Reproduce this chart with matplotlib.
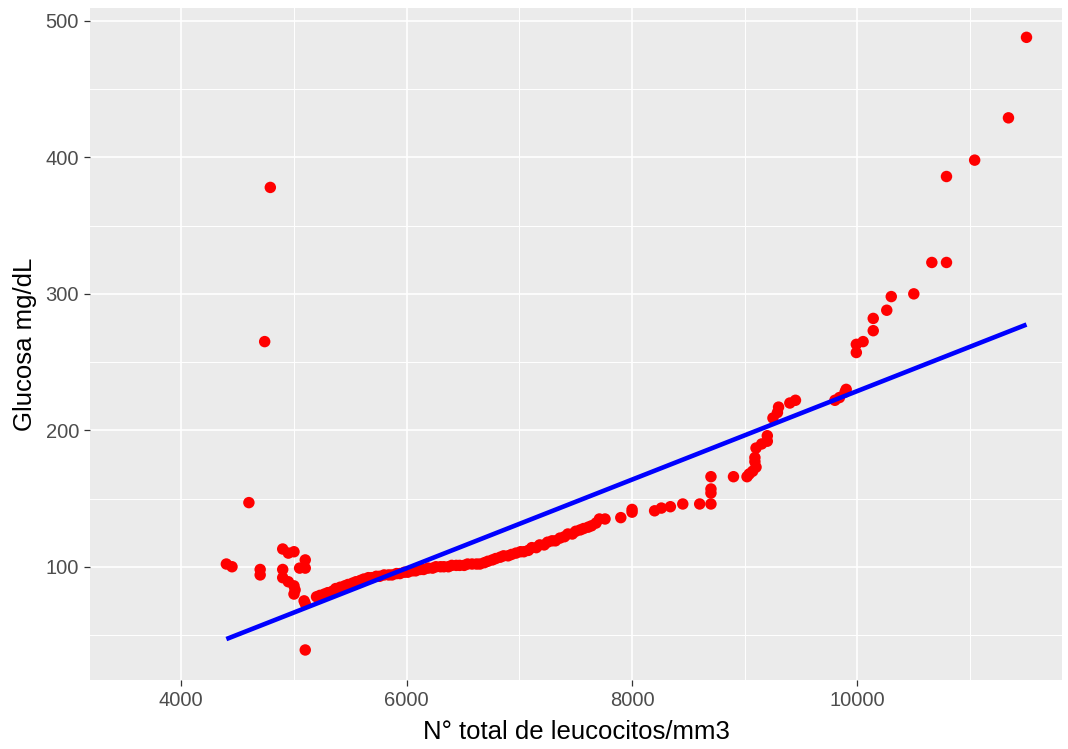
import matplotlib
matplotlib.use("Agg")
import matplotlib.pyplot as plt
from matplotlib.ticker import MultipleLocator

plt.rcParams['font.family'] = ['Liberation Sans', 'DejaVu Sans']

# Pacientes con valores atipicos a la izquierda
leuco_izq = [4400, 4450, 4600, 4740, 4790, 4700, 4700,
             4900, 4950, 5000, 5100, 5050, 5100, 4900, 4900, 4950,
             5000, 5010, 5000, 5090, 5100, 5100]
gluc_izq = [102, 100, 147, 265, 378, 98, 94,
            113, 110, 111, 105, 99, 99, 98, 92, 89,
            86, 83, 80, 75, 73, 39]

# Tramo central (valores ordenados)
leuco_centro = [5200, 5230, 5270, 5300, 5340, 5370, 5410, 5450, 5480, 5520,
                5550, 5590, 5620, 5660, 5690, 5730, 5760, 5800, 5840, 5870,
                5910, 5940, 5980, 6010, 6050, 6080, 6120, 6150, 6190, 6230,
                6260, 6300, 6330, 6370, 6400, 6440, 6470, 6510, 6540, 6580,
                6620, 6650, 6690, 6720, 6760, 6790, 6830, 6860, 6900, 6930,
                6970, 7010, 7040, 7080, 7110, 7150, 7180, 7220, 7250, 7290,
                7320, 7360, 7400, 7430, 7470, 7500, 7540, 7570, 7610, 7640,
                7680, 7710, 7760]
gluc_centro = [78, 79, 80, 81, 82, 84, 85, 86, 87, 88,
               89, 90, 91, 92, 92, 93, 93, 94, 94, 94,
               95, 95, 96, 96, 97, 97, 98, 98, 99, 99,
               100, 100, 100, 100, 101, 101, 101, 101, 102, 102,
               102, 102, 103, 104, 105, 106, 107, 108, 108, 109,
               110, 111, 111, 112, 114, 114, 116, 116, 118, 119,
               119, 121, 122, 124, 124, 126, 127, 128, 129, 130,
               132, 135, 135]

# Tramo derecho
leuco_der = [7900, 8000, 8000, 8200, 8260, 8340, 8450, 8600, 8700, 8700,
             8700, 8700, 8900, 9020, 9040, 9070, 9100, 9090, 9090, 9100,
             9150, 9200, 9200, 9250, 9290, 9300, 9400, 9450, 9800, 9840,
             9890, 9900, 9990, 9990, 10050, 10140, 10140, 10260, 10300, 10500,
             10660, 10790, 10790, 11040, 11340, 11500]
gluc_der = [136, 140, 142, 141, 143, 144, 146, 146, 146, 154,
            157, 166, 166, 166, 168, 170, 173, 177, 180, 187,
            190, 192, 196, 209, 213, 217, 220, 222, 222, 224,
            228, 230, 257, 263, 265, 273, 282, 288, 298, 300,
            323, 323, 386, 398, 429, 488]

leucocitos = leuco_izq + leuco_centro + leuco_der
glucosa = gluc_izq + gluc_centro + gluc_der

# Recta de regresion lineal (extremos)
recta_x = [4400, 11500]
recta_y = [47, 277.5]

fig = plt.figure(figsize=(10.68, 7.49), dpi=100)
ax = fig.add_axes([90 / 1068, 69 / 749, 972 / 1068, 672 / 749])
ax.set_facecolor('#EBEBEB')

ax.scatter(leucocitos, glucosa, s=68, color='red', edgecolors='none', zorder=3)
ax.plot(recta_x, recta_y, color='blue', lw=3.3, solid_capstyle='butt', zorder=4)

ax.set_xlim(3190, 11815)
ax.set_ylim(17, 509.5)
ax.xaxis.set_major_locator(MultipleLocator(2000))
ax.xaxis.set_minor_locator(MultipleLocator(1000))
ax.yaxis.set_major_locator(MultipleLocator(100))
ax.yaxis.set_minor_locator(MultipleLocator(50))

ax.grid(which='major', color='white', lw=1.2)
ax.grid(which='minor', color='white', lw=0.7)
ax.set_axisbelow(True)
for s in ax.spines.values():
    s.set_visible(False)

ax.tick_params(which='major', length=4.5, width=0.9, color='#333333',
               labelcolor='#4D4D4D', labelsize=14.5, pad=3.5)
ax.tick_params(which='minor', length=0)

ax.set_xlabel('N° total de leucocitos/mm3', fontsize=18.5, labelpad=7)
ax.set_ylabel('Glucosa mg/dL', fontsize=18.5, labelpad=6)

fig.savefig('out.png', dpi=100, facecolor='white')
